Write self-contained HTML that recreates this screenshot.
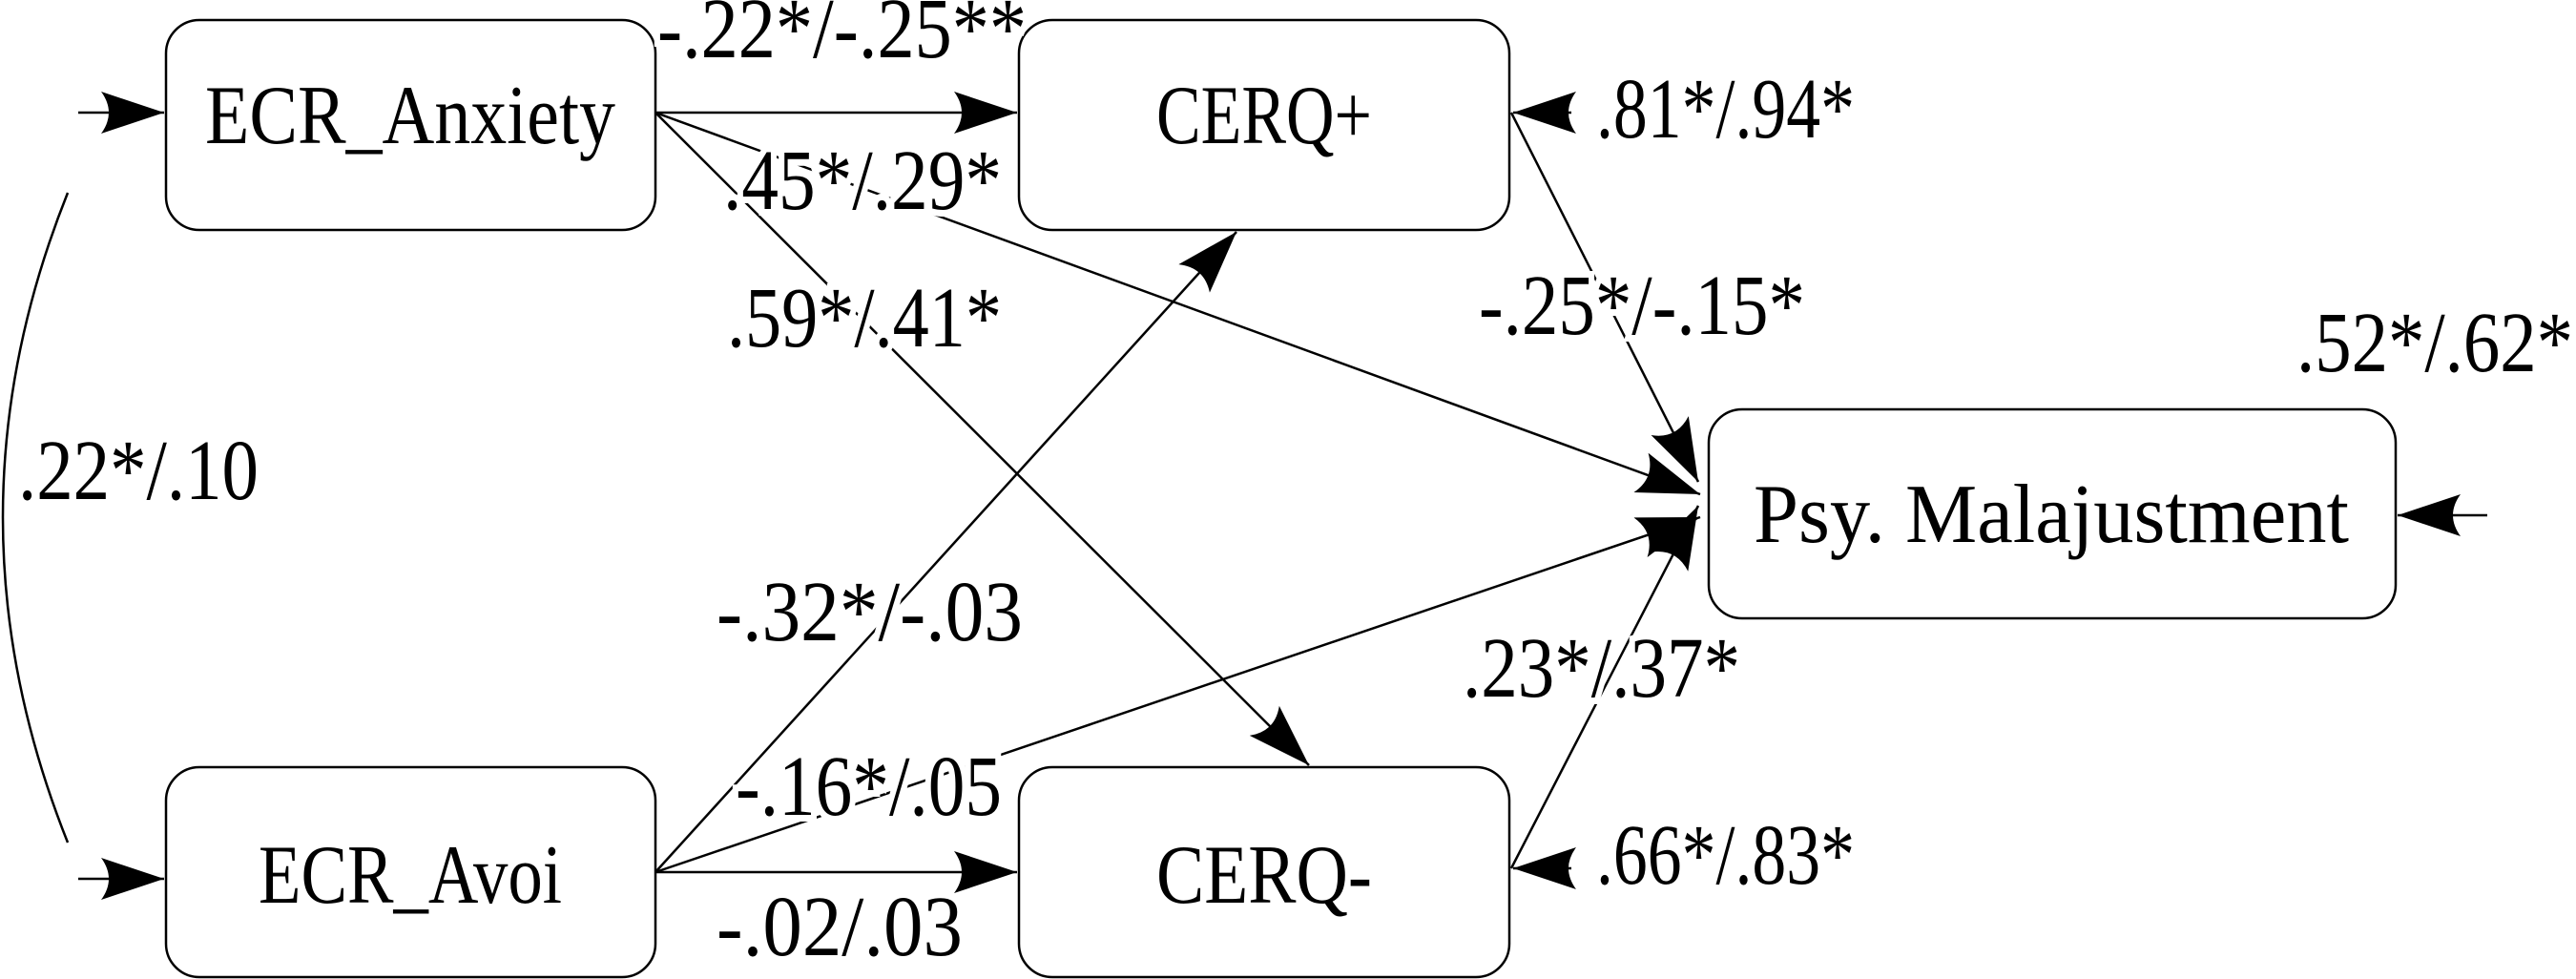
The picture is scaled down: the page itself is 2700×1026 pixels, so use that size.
<!DOCTYPE html>
<html><head><meta charset="utf-8"><style>html,body{margin:0;padding:0;background:#fff}svg{display:block}</style></head>
<body>
<svg width="2700" height="1026" viewBox="0 0 2700 1026" xmlns="http://www.w3.org/2000/svg">
<defs>
<marker id="a" markerUnits="userSpaceOnUse" markerWidth="80" markerHeight="50" refX="66" refY="22" orient="auto">
<path d="M0,0 L66,22 L0,44 Q16,22 0,0 z" fill="#000"/>
</marker>
</defs>
<g fill="none" stroke="#000" stroke-width="2.5">
<rect x="174" y="21" width="513" height="220" rx="35"/>
<rect x="174" y="804" width="513" height="220" rx="35"/>
<rect x="1068" y="21" width="514" height="220" rx="35"/>
<rect x="1068" y="804" width="514" height="220" rx="35"/>
<rect x="1791" y="429" width="720" height="219" rx="35"/>
<path d="M71,202 Q-65,542 71,883"/>
</g>
<g fill="none" stroke="#000" stroke-width="2.5" marker-end="url(#a)">
<line x1="82" y1="118" x2="172" y2="118"/>
<line x1="82" y1="921" x2="172" y2="921"/>
<line x1="687" y1="118" x2="1066" y2="118"/>
<line x1="687" y1="914" x2="1066" y2="914"/>
<line x1="687" y1="118" x2="1782" y2="518"/>
<line x1="687" y1="118" x2="1372" y2="802"/>
<line x1="687" y1="914" x2="1296" y2="243"/>
<line x1="687" y1="914" x2="1782" y2="542"/>
<line x1="1584" y1="118" x2="1780" y2="505"/>
<line x1="1584" y1="910" x2="1780" y2="530"/>
<line x1="1647" y1="118" x2="1586" y2="118"/>
<line x1="1647" y1="910" x2="1586" y2="910"/>
<line x1="2607" y1="540" x2="2513" y2="540"/>
</g>
<g font-family="Liberation Serif, serif" font-size="90" fill="#000" stroke="#fff" stroke-width="14" paint-order="stroke">
<text x="689" y="60" textLength="387" lengthAdjust="spacingAndGlyphs">-.22*/-.25**</text>
<text x="758" y="219" textLength="292" lengthAdjust="spacingAndGlyphs">.45*/.29*</text>
<text x="762" y="363" textLength="288" lengthAdjust="spacingAndGlyphs">.59*/.41*</text>
<text x="19" y="523" textLength="252" lengthAdjust="spacingAndGlyphs">.22*/.10</text>
<text x="751" y="671" textLength="321" lengthAdjust="spacingAndGlyphs">-.32*/-.03</text>
<text x="771" y="854" textLength="279" lengthAdjust="spacingAndGlyphs">-.16*/.05</text>
<text x="751" y="1001" textLength="258" lengthAdjust="spacingAndGlyphs">-.02/.03</text>
<text x="1673" y="144" textLength="271" lengthAdjust="spacingAndGlyphs">.81*/.94*</text>
<text x="1550" y="350" textLength="342" lengthAdjust="spacingAndGlyphs">-.25*/-.15*</text>
<text x="2407" y="389" textLength="290" lengthAdjust="spacingAndGlyphs">.52*/.62*</text>
<text x="1533" y="730" textLength="291" lengthAdjust="spacingAndGlyphs">.23*/.37*</text>
<text x="1673" y="926" textLength="271" lengthAdjust="spacingAndGlyphs">.66*/.83*</text>
</g>
<g font-family="Liberation Serif, serif" font-size="88" fill="#000" text-anchor="middle">
<text x="430" y="150" textLength="430" lengthAdjust="spacingAndGlyphs">ECR_Anxiety</text>
<text x="430" y="946" textLength="318" lengthAdjust="spacingAndGlyphs">ECR_Avoi</text>
<text x="1325" y="150" textLength="226" lengthAdjust="spacingAndGlyphs">CERQ+</text>
<text x="1325" y="946" textLength="226" lengthAdjust="spacingAndGlyphs">CERQ-</text>
<text x="2150" y="568" textLength="624" lengthAdjust="spacingAndGlyphs">Psy. Malajustment</text>
</g>
</svg>
</body></html>
